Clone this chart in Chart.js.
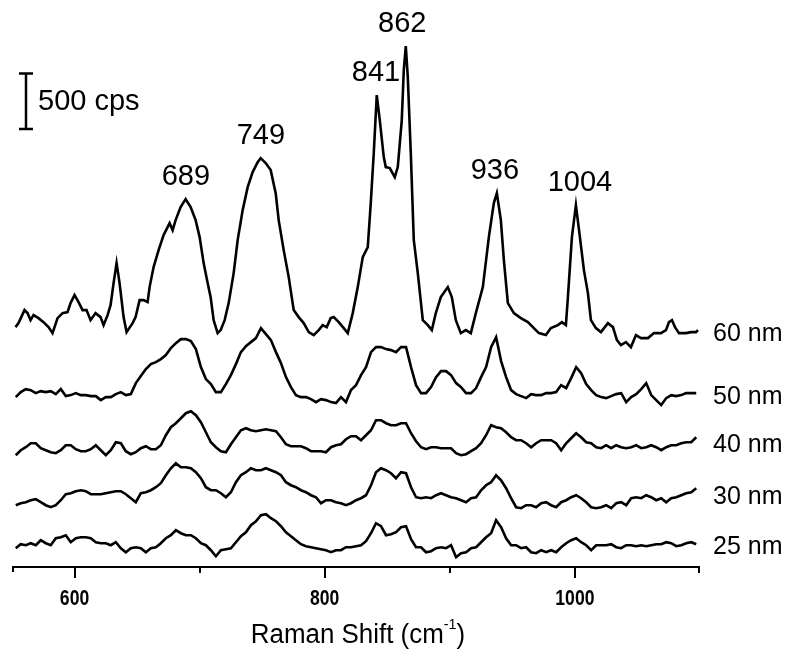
<!DOCTYPE html>
<html>
<head>
<meta charset="utf-8">
<script src="https://cdn.jsdelivr.net/npm/chart.js@4.4.1/dist/chart.umd.min.js"></script>
<style>
  html, body { margin: 0; padding: 0; background: #fff; }
  #wrap { width: 800px; height: 668px; }
</style>
</head>
<body>
<div id="wrap"><canvas id="raman" width="800" height="668"></canvas></div>
<script>
// Raman spectra, counts per second (each trace relative to its own baseline)
const traceNames = ['60 nm', '50 nm', '40 nm', '30 nm', '25 nm'];
const traceOffsets = [2150, 1520, 1015, 565, 160];

// 60 nm trace, read at its own shifts (cm-1)
const shift60 = [
  552.8, 555.2, 560, 562.4, 564.8, 567.2, 571.2, 575.2, 579.2, 582.4,
  586.4, 590.4, 594.4, 596.8, 600, 603.2, 606.4, 609.6, 612.8, 616.8,
  620.8, 623.2, 626.4, 628.8, 631.2, 633.6, 636, 639.2, 641.6, 646.4,
  648.8, 652, 655.2, 658.4, 660, 663.2, 667.2, 671.2, 674.4, 676,
  678.4, 680.8, 684.8, 688.8, 692.8, 696.8, 700, 703.2, 706.4, 708.8,
  711.2, 714.4, 716.8, 720, 723.2, 727.2, 730.4, 734.4, 738.4, 742.4,
  746.4, 748.8, 752.8, 756.8, 760.8, 763.2, 767.2, 771.2, 775.2, 779.2,
  783.2, 787.2, 791.2, 795.2, 798.4, 801.6, 804.8, 807.2, 811.2, 815.2,
  818.4, 822.4, 826.4, 830.4, 834.4, 836.8, 839.2, 841.6, 844, 847.2,
  848.8, 852, 856, 858.4, 861.6, 863.2, 864.8, 866.4, 868.8, 871.2,
  874.4, 878.4, 882.4, 885.6, 888.8, 892.8, 898.4, 901.6, 904.8, 908.8,
  912.8, 916.8, 920.8, 926.4, 931.2, 935.2, 937.6, 940.8, 943.2, 946.4,
  951.2, 956.8, 962.4, 967.2, 971.2, 976.8, 980.8, 986.4, 989.6, 992.8,
  994.4, 997.6, 1000.8, 1004, 1007.2, 1010.4, 1012.8, 1016.8, 1020.8, 1026.4,
  1030.4, 1033.6, 1036.8, 1040.8, 1044.8, 1048.8, 1052.8, 1058.4, 1063.2, 1068.8,
  1072.8, 1075.2, 1077.6, 1080, 1083.2, 1088.8, 1092.8, 1096.8, 1098.4
];
const cps60 = [
  0, 36, 153, 126, 63, 108, 81, 45, 0, -54,
  81, 126, 135, 216, 288, 225, 153, 153, 63, 126,
  90, 18, 108, 198, 396, 576, 396, 90, -45, 36,
  90, 243, 243, 225, 360, 540, 693, 828, 900, 936,
  873, 963, 1080, 1152, 1080, 963, 810, 576, 396, 270,
  63, -54, -27, 63, 216, 486, 783, 1053, 1260, 1395,
  1485, 1521, 1476, 1413, 1206, 963, 693, 450, 153, 90,
  36, -45, -72, -27, 18, 0, 81, 90, 45, -9,
  -54, 126, 360, 630, 720, 1116, 1566, 2088, 1863, 1530,
  1440, 1431, 1350, 1440, 1863, 2313, 2529, 2250, 1566, 783,
  486, 63, 18, -27, 126, 270, 360, 270, 63, -54,
  -27, -54, 126, 360, 810, 1116, 1206, 963, 603, 216,
  126, 81, 45, -9, -54, -72, -9, 18, 45, 18,
  270, 810, 1098, 810, 513, 306, 63, -9, -45, 36,
  0, -117, -162, -135, -180, -72, -99, -99, -54, -54,
  -27, 45, 63, 0, -54, -54, -45, -45, -27
];

// other traces, read every 4 cm-1 from 553 cm-1
const gridStart = 553;
const gridStep = 4;
const cps50 = [
  0, 45, 72, 63, 36, 54, 45, 54, 27, 72,
  9, 18, 36, 18, 18, 9, 9, -27, 0, 0,
  27, 45, 18, 27, 126, 189, 252, 297, 315, 342,
  378, 441, 486, 522, 522, 504, 432, 270, 162, 117,
  45, 45, 117, 198, 297, 405, 459, 495, 531, 621,
  567, 513, 405, 306, 180, 90, 18, 0, 0, -18,
  -45, -18, -27, -45, -54, 0, -45, 63, 108, 198,
  270, 405, 450, 450, 432, 423, 405, 450, 450, 270,
  108, 36, 36, 90, 180, 234, 234, 198, 126, 90,
  36, 36, 81, 180, 270, 450, 540, 324, 180, 63,
  27, 9, -9, 27, 18, 18, 36, 36, 45, 108,
  81, 171, 270, 216, 117, 63, 18, 0, -9, 9,
  27, 36, -45, 0, 27, 72, 126, 18, -27, -72,
  -9, 18, 9, 18, 36, 36, 36
];
const cps40 = [
  -18, 27, 54, 90, 90, 45, 27, 9, 0, 27,
  72, 72, 36, 18, 18, 36, 72, 27, -18, 27,
  99, 90, 18, -9, 9, 45, 63, 36, 36, 72,
  162, 234, 270, 315, 360, 378, 342, 279, 189, 99,
  54, 18, 9, 81, 144, 207, 225, 207, 198, 207,
  216, 207, 198, 144, 81, 63, 63, 63, 45, 18,
  18, 18, 9, 54, 72, 81, 126, 153, 153, 117,
  162, 207, 297, 297, 270, 252, 252, 270, 270, 180,
  108, 54, 36, 54, 54, 45, 45, 45, 0, -18,
  -9, 18, 45, 90, 162, 252, 234, 225, 189, 144,
  117, 117, 90, 54, 90, 117, 117, 117, 90, 27,
  90, 135, 180, 144, 99, 90, 54, 45, 72, 45,
  72, 54, 45, 54, 72, 45, 54, 72, 54, 27,
  54, 72, 72, 90, 99, 99, 144
];
const cps30 = [
  -18, 0, 9, 27, 36, 9, -18, -36, -18, 27,
  81, 90, 108, 117, 108, 81, 81, 81, 90, 99,
  108, 108, 81, 45, 9, 90, 99, 117, 144, 180,
  252, 315, 360, 324, 324, 315, 279, 225, 144, 117,
  117, 90, 54, 99, 189, 252, 279, 315, 297, 297,
  315, 297, 279, 252, 189, 162, 144, 117, 99, 72,
  54, 0, 27, 27, 9, 0, -18, 0, 27, 45,
  72, 162, 279, 315, 297, 270, 225, 279, 270, 144,
  54, 45, 54, 45, 72, 90, 72, 54, 45, 27,
  9, 45, 54, 117, 162, 189, 252, 207, 135, 45,
  -36, -45, -18, -18, -36, 0, 9, -18, -36, 9,
  27, 54, 72, 45, 9, -36, -45, -36, -18, -45,
  0, 9, -18, 45, 54, 45, 72, 54, 27, 45,
  9, 45, 54, 72, 90, 99, 135
];
const cps25 = [
  0, 36, 27, 45, 27, 72, 45, 27, 90, 99,
  117, 54, 90, 99, 99, 90, 54, 45, 45, 27,
  54, 0, -36, 0, 9, 0, -36, 0, 9, 45,
  90, 117, 162, 135, 117, 117, 90, 45, 27, -18,
  -72, -18, -9, 0, 54, 108, 144, 207, 243, 297,
  306, 270, 243, 198, 144, 108, 72, 36, 18, 9,
  0, -9, -18, -36, -18, -18, 9, 9, 18, 27,
  63, 135, 225, 198, 117, 126, 144, 189, 198, 81,
  9, 9, -36, -27, 0, 9, 0, 27, -81, -45,
  -36, 0, 9, 54, 99, 135, 252, 189, 90, 27,
  27, 0, 9, -36, -45, -18, -36, -18, -36, 9,
  45, 72, 90, 54, 27, -18, 27, 27, 27, 36,
  9, 0, 27, 27, 18, 27, 18, 27, 36, 36,
  54, 45, 18, 27, 45, 54, 36
];

const peakLabels = [689, 749, 841, 862, 936, 1004];
const xTicksMajor = [600, 800, 1000];
const xTicksMinor = [700, 900, 1100];
const scaleBarCps = 500;

const shiftGrid = cps50.map((_, i) => gridStart + i * gridStep);
const traceShifts = [shift60, shiftGrid, shiftGrid, shiftGrid, shiftGrid];
const traceCps = [cps60, cps50, cps40, cps30, cps25];

const FONT = '"Liberation Sans", Arial, Helvetica, sans-serif';

const datasets = traceNames.map((name, t) => ({
  label: name,
  data: traceCps[t].map((v, i) => ({ x: traceShifts[t][i], y: v + traceOffsets[t] })),
  borderColor: '#000',
  borderWidth: 2.6,
  pointRadius: 0,
  tension: 0,
  fill: false
}));

// narrow text: squeeze horizontally around its anchor
function narrowText(ctx, text, x, y, squeeze) {
  ctx.save();
  ctx.translate(x, y);
  ctx.scale(squeeze, 1);
  ctx.fillText(text, 0, 0);
  ctx.restore();
}

// axis, labels, scale bar
const decorations = {
  id: 'decorations',
  afterDraw(chart) {
    const ctx = chart.ctx;
    const xs = chart.scales.x;
    const ys = chart.scales.y;
    const area = chart.chartArea;
    const axisY = area.bottom + 1;
    ctx.save();
    ctx.strokeStyle = '#000';
    ctx.fillStyle = '#000';
    ctx.lineCap = 'butt';

    // x axis line + ticks
    ctx.lineWidth = 2;
    ctx.beginPath();
    ctx.moveTo(xs.getPixelForValue(550), axisY);
    ctx.lineTo(xs.getPixelForValue(1100), axisY);
    ctx.stroke();
    ctx.beginPath();
    ctx.moveTo(xs.getPixelForValue(550) + 1, axisY);
    ctx.lineTo(xs.getPixelForValue(550) + 1, axisY + 5);
    xTicksMajor.forEach(v => {
      const px = Math.round(xs.getPixelForValue(v));
      ctx.moveTo(px, axisY);
      ctx.lineTo(px, axisY + 11);
    });
    xTicksMinor.forEach(v => {
      let px = Math.round(xs.getPixelForValue(v));
      if (v === 1100) px -= 1;
      ctx.moveTo(px, axisY);
      ctx.lineTo(px, axisY + 6);
    });
    ctx.stroke();

    ctx.textAlign = 'center';
    ctx.textBaseline = 'middle';
    ctx.font = 'bold 22px ' + FONT;
    xTicksMajor.forEach(v => {
      narrowText(ctx, String(v), xs.getPixelForValue(v), axisY + 32, 0.8);
    });

    // axis title with superscript
    const t1 = 'Raman Shift (cm';
    const sup = '-1';
    const t2 = ')';
    const big = '27px ' + FONT;
    const small = '15px ' + FONT;
    const sq = 0.96;
    ctx.font = big;
    const w1 = ctx.measureText(t1).width * sq;
    const w3 = ctx.measureText(t2).width * sq;
    ctx.font = small;
    const w2 = ctx.measureText(sup).width * sq;
    const tx = (area.left + area.right) / 2 - (w1 + w2 + w3) / 2 + 2;
    const ty = axisY + 69;
    ctx.textAlign = 'left';
    ctx.font = big;
    narrowText(ctx, t1, tx, ty, sq);
    ctx.font = small;
    narrowText(ctx, sup, tx + w1, ty - 11, sq);
    ctx.font = big;
    narrowText(ctx, t2, tx + w1 + w2, ty, sq);

    // trace labels at the right end
    ctx.font = '25px ' + FONT;
    traceNames.forEach((name, t) => {
      const cps = traceCps[t];
      const tail = cps.slice(-6).reduce((a, b) => a + b, 0) / 6;
      ctx.fillText(name, area.right + 13, ys.getPixelForValue(tail + traceOffsets[t]) + 3);
    });

    // peak labels over the 60 nm trace
    ctx.font = '29px ' + FONT;
    ctx.textAlign = 'center';
    peakLabels.forEach(p => {
      let top = -Infinity;
      shift60.forEach((s, i) => {
        if (Math.abs(s - p) <= 6 && cps60[i] > top) top = cps60[i];
      });
      const py = ys.getPixelForValue(top + traceOffsets[0]);
      ctx.fillText(String(p), xs.getPixelForValue(p), py - 22);
    });

    // 500 cps scale bar
    const barX = Math.round(xs.getPixelForValue(561));
    const barBottom = ys.getPixelForValue(3933);
    const barTop = ys.getPixelForValue(3933 + scaleBarCps);
    ctx.lineWidth = 2.5;
    ctx.beginPath();
    ctx.moveTo(barX, barTop);
    ctx.lineTo(barX, barBottom);
    ctx.moveTo(barX - 7, barTop);
    ctx.lineTo(barX + 7, barTop);
    ctx.moveTo(barX - 7, barBottom);
    ctx.lineTo(barX + 7, barBottom);
    ctx.stroke();
    ctx.textAlign = 'left';
    ctx.font = '29px ' + FONT;
    ctx.fillText(scaleBarCps + ' cps', barX + 12, (barTop + barBottom) / 2 + 1);
    ctx.restore();
  }
};

new Chart(document.getElementById('raman').getContext('2d'), {
  type: 'line',
  data: { datasets: datasets },
  options: {
    responsive: false,
    devicePixelRatio: 1,
    animation: false,
    layout: { padding: { left: 12, right: 100, top: 10, bottom: 102 } },
    scales: {
      x: { type: 'linear', min: 550, max: 1100, display: false },
      y: { type: 'linear', min: 0, max: 5004, display: false }
    },
    plugins: {
      legend: { display: false },
      tooltip: { enabled: false }
    }
  },
  plugins: [decorations]
});
</script>
</body>
</html>
